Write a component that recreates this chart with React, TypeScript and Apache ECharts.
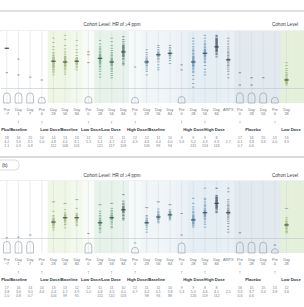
import React, { useEffect, useRef } from 'react';
import * as echarts from 'echarts';

// ---------- data ----------
const COLUMNS = Array.from({ length: 26 }, (_, i) => 'c' + i);
const COL_TOP = ['Pre', 'Day', 'Day', 'Pre', 'Day', 'Day', 'Day', 'Pre', 'Day', 'Day', 'Day', 'Pre', 'Day', 'Day', 'Day', 'Pre', 'Day', 'Day', 'Day', 'ARPX', 'Pre', 'Day', 'Day', 'Pre', 'Day', ''];
const COL_SUB = ['−7', '1', '7', '0', '28', '56', '84', '0', '28', '56', '84', '0', '28', '56', '84', '0', '28', '56', '84', '', '0', '28', '56', '0', '28', ''];
const ARROW_COLS = [1, 3, 7, 9, 11, 15, 17, 20, 23];
const GROUPS = ['Pbo/Baseline', 'Low Dose/Baseline', 'Low Dose/Low Dose', 'High Dose/Baseline', 'High Dose/High Dose', 'Placebo', 'Low Dose'];
const TITLE = 'Cohort Level: HR of ≥4 ppm';
const TITLE_RIGHT = 'Cohort Level';

const P1_DOTS: number[][] = [
  [76, 42], [61, 39], [36], [32],
  [90, 84, 78, 74, 70, 68, 66, 64, 63, 62, 61, 60, 59, 58, 57, 56, 55, 54, 53, 52, 51, 50, 49, 47, 46, 44, 42, 39],
  [94, 88, 80, 75, 71, 68, 65, 64, 63, 62, 61, 60, 59, 58, 57, 56, 55, 54, 53, 52, 51, 50, 48, 46, 43, 40],
  [87, 80, 74, 70, 66, 63, 62, 61, 60, 59, 58, 57, 56, 55, 54, 53, 51, 49, 46],
  [71, 67, 56],
  [87, 82, 78, 76, 74, 72, 70, 68, 67, 66, 65, 64, 63, 62, 61, 60, 59, 58, 57, 56, 55, 53, 51, 50, 47, 44, 40, 36],
  [90, 85, 80, 76, 73, 70, 68, 66, 64, 62, 61, 60, 59, 58, 57, 56, 55, 54, 53, 52, 50, 48, 46, 44, 41, 38, 35],
  [92, 88, 85, 82, 80, 79, 78, 77, 76, 75, 74, 73, 72, 71, 70, 69, 68, 67, 66, 65, 64, 62, 60, 57, 55, 53],
  [50],
  [74, 70, 67, 64, 62, 60, 59, 58, 57, 56, 55, 54, 52, 50, 47, 44, 39],
  [80, 77, 74, 72, 70, 69, 68, 67, 66, 65, 64, 62, 60, 57, 53, 49, 46],
  [80, 77, 75, 73, 71, 70, 69, 68, 67, 66, 64, 62, 59, 55],
  [53, 46],
  [90, 86, 82, 78, 75, 73, 71, 69, 67, 65, 64, 63, 62, 61, 60, 59, 58, 57, 56, 55, 54, 53, 52, 51, 50, 48, 46, 44, 42, 38, 33, 27, 22],
  [94, 90, 86, 83, 81, 79, 77, 75, 74, 73, 72, 71, 70, 69, 68, 67, 66, 65, 64, 62, 60, 58, 56, 52, 47, 43, 39],
  [94, 92, 90, 89, 88, 87, 86, 85, 84, 83, 82, 81, 80, 79, 78, 77, 76, 75, 74, 73, 72, 71, 69, 67, 64],
  [90, 86, 82, 78, 75, 72, 70, 68, 66, 64, 62, 61, 60, 59, 58, 56, 54, 52, 50, 47, 44, 40, 35],
  [42, 25], [35, 25], [35], [],
  [56, 52, 48, 45, 42, 40, 38, 36, 34, 33, 32, 31, 30, 29, 28, 27, 25],
  [],
];
const P1_MED = [76, null, null, null, 58, 57, 58, null, 62, 57, 71, null, 57, 67, 69, null, 57, 69, 78, 60, null, null, null, null, 32, null];
const P1_ARCH = [14, 14, 14, 8, 0, 0, 0, 9, 0, 0, 0, 8, 0, 0, 0, 9, 0, 0, 0, 0, 14, 14, 14, 8, 0, 0];

const P2_DOTS: number[][] = [
  [21], [22], [25], [],
  [71, 58, 52, 50, 48, 47, 46, 45, 44, 43, 42, 41, 40, 39, 38, 36, 35, 32],
  [69, 60, 56, 54, 53, 52, 51, 50, 49, 48, 47, 46, 45, 44, 42, 40, 39, 35],
  [74, 62, 55, 53, 52, 51, 50, 49, 48, 47, 46, 45, 44, 42, 40, 38],
  [27],
  [67, 58, 55, 52, 50, 48, 46, 45, 44, 43, 42, 41, 40, 39, 38, 36, 34, 32, 29],
  [69, 62, 59, 57, 55, 53, 52, 51, 50, 49, 48, 47, 46, 44, 42, 40, 37, 35],
  [81, 72, 69, 67, 65, 64, 63, 62, 61, 60, 59, 58, 57, 56, 54, 52, 50, 48, 46],
  [14],
  [63, 52, 50, 48, 46, 45, 44, 43, 42, 41, 40, 38, 36, 33, 29],
  [71, 61, 58, 56, 54, 53, 52, 51, 50, 49, 48, 47, 46, 44, 42],
  [67, 60, 58, 57, 56, 55, 54, 53, 52, 51, 50, 49, 48, 46],
  [55, 25],
  [76, 69, 64, 61, 58, 56, 54, 52, 51, 50, 49, 48, 47, 46, 45, 44, 43, 42, 41, 40, 38, 36],
  [90, 76, 74, 71, 68, 66, 64, 62, 60, 59, 58, 57, 56, 55, 54, 53, 52, 51, 50, 48, 46, 43, 40, 36],
  [90, 80, 78, 77, 76, 75, 74, 73, 72, 71, 70, 69, 68, 67, 66, 65, 64, 63, 62, 60, 58, 56],
  [90, 85, 74, 71, 68, 66, 64, 62, 60, 59, 58, 57, 56, 55, 54, 53, 51, 49, 47, 44, 41, 37, 33, 29],
  [28], [], [], [11],
  [62, 49, 46, 44, 42, 41, 40, 39, 38, 37, 36, 34, 32, 30, 28],
  [],
];
const P2_MED = [null, null, null, null, 43, 49, 49, null, 42, 49, 60, null, 42, 50, 53, null, 46, 56, 69, 56, null, null, null, null, 39, null];
const P2_CAP = [null, null, null, null, 71, 69, 74, null, 67, 69, null, null, 63, 71, 67, null, null, null, null, null, null, null, null, null, 62, null];
const P2_ARCH = [16, 16, 16, 0, 0, 0, 0, 14, 0, 0, 0, 8, 0, 0, 0, 14, 0, 0, 0, 0, 15, 15, 15, 6, 0, 0];

const P1_N1 = ['18', '16', '15', '14', '14', '13', '13', '12', '12', '11', '11', '12', '12', '11', '10', '9', '9', '9', '8', '', '17', '16', '15', '13', '13', ''];
const P1_N2 = ['4.2', '3.9', '3.1', '5.0', '4.8', '4.4', '4.1', '5.3', '5.1', '4.7', '4.2', '4.9', '4.6', '4.4', '4.0', '5.6', '5.2', '4.9', '4.3', '2.7', '4.1', '3.8', '3.6', '4.0', '3.9', ''];
const P1_N3 = ['1.1', '0.9', '0.8', '', '112', '108', '101', '', '121', '117', '109', '', '106', '99', '94', '', '131', '124', '118', '', '0.7', '0.6', '', '', '', ''];
const P2_N1 = ['17', '16', '14', '14', '13', '13', '12', '12', '11', '11', '10', '12', '11', '11', '10', '9', '9', '8', '8', '', '16', '15', '15', '13', '12', ''];
const P2_N2 = ['3.8', '3.6', '3.0', '4.6', '4.4', '4.2', '3.9', '5.0', '4.8', '4.5', '4.0', '4.7', '4.4', '4.1', '3.8', '5.3', '5.0', '4.6', '4.1', '2.5', '3.9', '3.7', '3.4', '3.8', '3.6', ''];
const P2_N3 = ['1.0', '0.8', '0.7', '', '104', '99', '95', '', '115', '110', '103', '', '98', '93', '88', '', '126', '119', '112', '', '0.6', '0.6', '', '', '', ''];

// ---------- styles ----------
const BG = ['#ffffff', '#ffffff', '#ffffff', '#ffffff', '#eff6e4', '#f0f6e6', '#f3f8ec', '#f9fbf7', '#e7f2ea', '#e7f2ea', '#e9f2ec', '#f6f9fa', '#f0f5f8', '#f0f5f8', '#eff4f8', '#ebf1f6', '#e5eef5', '#e5eef5', '#e5eef5', '#e8eff5', '#e3eaef', '#e3eaef', '#e3eaef', '#e3eaef', '#e5f0da', '#e5f0da'];
const STRIP = ['#5a646d', '#5a646d', '#5a646d', '#5a646d', '#8eaa6a', '#8eaa6a', '#8eaa6a', '#8a5a5a', '#5c9878', '#5c9878', '#3d5c57', '#6a757e', '#5d8ca0', '#5d8ca0', '#5d8ca0', '#5a646d', '#5a88ae', '#5a88ae', '#2e3d4c', '#6d7a85', '#4a5560', '#4a5560', '#4a5560', '#4a5560', '#88a85a', '#88a85a'];
const FONT = 'Liberation Sans';

function panelSeries(p: number, dots: number[][], med: (number | null)[], arch: number[], caps: (number | null)[] | null) {
  const ax = { xAxisIndex: p, yAxisIndex: p };
  const list: any[] = [
    {
      type: 'custom', ...ax, z: 0, silent: true,
      data: COLUMNS.map((_, i) => [i, 0]),
      renderItem: (params: any, api: any) => {
        const i = api.value(0);
        const t = api.coord([i, 100]);
        const b = api.coord([i, 0]);
        const w = api.size([1, 0])[0];
        return { type: 'rect', shape: { x: t[0] - w / 2, y: t[1], width: w + 0.5, height: b[1] - t[1] }, style: { fill: BG[i] } };
      },
    },
    {
      type: 'custom', ...ax, z: 1, silent: true,
      data: COLUMNS.slice(0, 25).map((_, i) => [i, 0]),
      renderItem: (params: any, api: any) => {
        const i = api.value(0);
        const t = api.coord([i, 100]);
        const b = api.coord([i, 0]);
        return { type: 'line', shape: { x1: t[0], y1: t[1], x2: b[0], y2: b[1] }, style: { stroke: '#d3dadf', lineWidth: 0.5 } };
      },
    },
    {
      type: 'custom', ...ax, z: 2, silent: true,
      data: arch.map((h, i) => [i, h]).filter((d) => d[1] > 0),
      renderItem: (params: any, api: any) => {
        const i = api.value(0);
        const t = api.coord([i, api.value(1)]);
        const b = api.coord([i, 0]);
        const w = api.size([1, 0])[0] * 0.58;
        return { type: 'rect', shape: { x: t[0] - w / 2, y: t[1], width: w, height: b[1] - t[1], r: [w / 2, w / 2, 0, 0] }, style: { fill: 'none', stroke: '#8a97a1', lineWidth: 0.6 } };
      },
    },
    {
      type: 'scatter', ...ax, z: 3, silent: true,
      symbol: 'rect', symbolSize: [2.4, 0.9],
      data: dots.flatMap((vals, i) => vals.map((v) => [i, v])),
      itemStyle: { color: (pr: any) => STRIP[pr.value[0]], opacity: 0.7 },
      markLine: {
        silent: true, symbol: 'none', label: { show: false },
        lineStyle: { color: '#bcc6cd', width: 0.6, type: 'solid' },
        data: [{ yAxis: 20 }],
      },
    },
    {
      type: 'scatter', ...ax, z: 4, silent: true,
      symbol: 'rect', symbolSize: [4.5, 1.2],
      data: med.map((v, i) => [i, v]).filter((d) => d[1] !== null),
      itemStyle: { color: '#2e3a43' },
    },
  ];
  if (caps) {
    list.push({
      type: 'scatter', ...ax, z: 4, silent: true,
      symbol: 'rect', symbolSize: [3.6, 0.6],
      data: caps.map((v, i) => [i, v]).filter((d) => d[1] !== null),
      itemStyle: { color: '#98a3ab' },
    });
  }
  return list;
}

function xAxisFor(p: number, n1: string[], n2: string[], n3: string[]) {
  return {
    type: 'category', gridIndex: p, data: COLUMNS,
    axisLine: { show: false }, axisTick: { show: false },
    axisLabel: {
      interval: 0, margin: 5, lineHeight: 4, fontFamily: FONT, fontSize: 4,
      formatter: (_v: string, i: number) => {
        const lines = [
          `{t|${COL_TOP[i] || ' '}}`,
          `{t|${COL_SUB[i] || ' '}}`,
          '{e| }',
          ARROW_COLS.includes(i) ? '{a|↑}' : '{e| }',
          '{e| }', '{e| }', '{e| }',
          `{n|${n1[i] || ' '}}`,
          `{n|${n2[i] || ' '}}`,
          `{n|${n3[i] || ' '}}`,
        ];
        return lines.join('\n');
      },
      rich: {
        t: { fontFamily: FONT, fontSize: 3.8, lineHeight: 4.2, color: '#6a747c' },
        e: { fontFamily: FONT, fontSize: 4, lineHeight: 4 },
        a: { fontFamily: FONT, fontSize: 4.6, lineHeight: 4, color: '#3a4045', fontWeight: 'bold' },
        n: { fontFamily: FONT, fontSize: 3.6, lineHeight: 4, color: '#7a8289' },
      },
    },
  };
}

const GROUP_X = [27, 59, 101, 146, 204, 253, 291];

function groupTexts(y: number) {
  return GROUPS.map((g, k) => ({
    type: 'text', x: GROUP_X[k], y,
    style: { text: g, fontFamily: FONT, fontSize: 4.1, fontWeight: 'bold', fill: '#2e3439', align: k === 0 ? 'right' : 'center', verticalAlign: 'middle' },
  }));
}

export default function App() {
  const ref = useRef<HTMLDivElement>(null);
  useEffect(() => {
    document.body.style.margin = '0';
    const chart = echarts.init(ref.current!, undefined, { renderer: 'svg' });
    chart.setOption({
      animation: false,
      backgroundColor: '#ffffff',
      grid: [
        { left: 1, top: 31, width: 309, height: 72 },
        { left: 1, top: 181, width: 309, height: 72 },
      ],
      xAxis: [xAxisFor(0, P1_N1, P1_N2, P1_N3), xAxisFor(1, P2_N1, P2_N2, P2_N3)],
      yAxis: [
        { type: 'value', gridIndex: 0, min: 0, max: 100, show: false },
        { type: 'value', gridIndex: 1, min: 0, max: 100, show: false },
      ],
      series: [...panelSeries(0, P1_DOTS, P1_MED, P1_ARCH, null), ...panelSeries(1, P2_DOTS, P2_MED, P2_ARCH, P2_CAP)],
      graphic: [
        { type: 'rect', shape: { x: 0, y: 10, width: 304, height: 2 }, style: { fill: '#e0e0e0' }, silent: true },
        { type: 'rect', shape: { x: 0, y: 156, width: 304, height: 2 }, style: { fill: '#dadada' }, silent: true },
        { type: 'line', shape: { x1: 0, y1: 31, x2: 304, y2: 31 }, style: { stroke: '#d3d9dd', lineWidth: 0.8 }, silent: true },
        { type: 'line', shape: { x1: 0, y1: 181, x2: 304, y2: 181 }, style: { stroke: '#d3d9dd', lineWidth: 0.8 }, silent: true },
        { type: 'text', x: 112, y: 24, style: { text: TITLE, fontFamily: FONT, fontSize: 4.6, fill: '#3a4045', align: 'center', verticalAlign: 'middle' } },
        { type: 'text', x: 272, y: 24, style: { text: TITLE_RIGHT, fontFamily: FONT, fontSize: 4.6, fill: '#3a4045', align: 'left', verticalAlign: 'middle' } },
        { type: 'text', x: 112, y: 175, style: { text: TITLE, fontFamily: FONT, fontSize: 4.6, fill: '#3a4045', align: 'center', verticalAlign: 'middle' } },
        { type: 'text', x: 272, y: 175, style: { text: TITLE_RIGHT, fontFamily: FONT, fontSize: 4.6, fill: '#3a4045', align: 'left', verticalAlign: 'middle' } },
        { type: 'rect', shape: { x: -6, y: 160, width: 25, height: 10, r: 4 }, style: { fill: 'none', stroke: '#c8c8c8', lineWidth: 0.6 } },
        { type: 'text', x: 2, y: 165, style: { text: '(b)', fontFamily: FONT, fontSize: 4.6, fill: '#333', align: 'left', verticalAlign: 'middle' } },
        ...groupTexts(129),
        ...groupTexts(279),
      ],
    });
    return () => chart.dispose();
  }, []);
  return <div ref={ref} style={{ width: 304, height: 307 }} />;
}
